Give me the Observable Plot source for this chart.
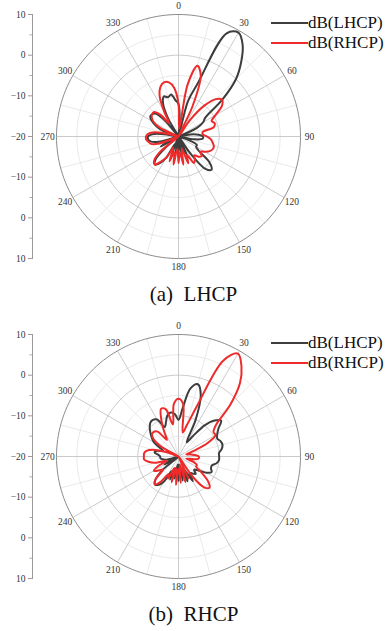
<!DOCTYPE html>
<html><head><meta charset="utf-8">
<script src="https://cdn.jsdelivr.net/npm/d3@7"></script>
<script src="https://cdn.jsdelivr.net/npm/@observablehq/plot@0.6"></script>
<style>
body{margin:0;background:#fff;width:387px;height:631px;overflow:hidden;font-family:"Liberation Serif",serif}
.panel{position:relative;width:387px;height:320px}
.legend{position:absolute;left:271px;top:13px;font-size:17px;line-height:20px;color:#111}
.legend div{display:flex;align-items:center;height:20px}
.legend svg{display:block}
.caption{position:absolute;top:282px;left:0;width:387px;text-align:center;font-size:21px;line-height:24px;white-space:pre;color:#111}
</style></head><body>
<div id="a" class="panel"></div><div id="b" class="panel"></div>
<script>
// sampling angles (degrees, clockwise from top)
const angles = [0,5,10,15,20,25,30,35,40,45,50,55,60,65,70,75,80,85,90,95,100,105,110,115,120,125,130,135,140,145,150,155,160,165,170,175,180,185,190,195,200,205,210,215,220,225,230,235,240,245,250,255,260,265,270,275,280,285,290,295,300,305,310,315,320,325,330,335,340,345,350,355];

// (a) LHCP antenna
const aLHCP = [-12,-17,-20,-11,-6,8,9.5,7.5,4,0,-6,-12,-13,-15,-20,-20,-17,-15,-14,-14,-16,-20,-17,-15,-15,-14,-10,-8.5,-9.5,-15,-20,-15,-17,-20,-16,-20,-15,-20,-16,-20,-15,-18,-14,-12,-11,-12,-16,-20,-15,-17,-20,-15,-13,-12.5,-12.5,-13.5,-17,-20,-16,-14,-12.5,-11.5,-11.5,-12,-15,-20,-15,-11,-9.5,-10,-9.5,-11];
const aRHCP = [-12,-18,-7,-2,-4,-12,-20,-15,-10,-7,-6,-7,-9.5,-11,-10.5,-11,-14,-14,-13,-12,-11.5,-11,-11,-11.5,-12.5,-13.5,-12.5,-13,-14,-13,-12.5,-15,-13,-17,-13,-16,-13.5,-17,-13,-16,-13.5,-17,-14,-12.5,-11,-11.5,-14,-20,-18,-20,-15,-13,-12.5,-12,-12,-12.5,-14,-18,-20,-15,-13,-12,-11.5,-11.5,-13,-16,-13,-9,-7,-6.2,-6.5,-8];

// (b) RHCP antenna
const bLHCP = [-11,-8,-3,-1.6,-4,-10,-16,-14,-10,-7.5,-6.3,-8,-9,-9.5,-9,-8.8,-9.2,-10,-10,-10,-10.5,-11.5,-11.5,-11,-12,-14,-15,-14,-14.5,-15,-13,-16,-13.5,-17,-14,-18,-14,-18,-14.5,-17,-14,-16,-13,-11.5,-11,-12,-15,-20,-16,-18,-20,-17,-16,-15.5,-15.5,-15,-14,-14.5,-16,-15,-13,-12,-11,-10,-9.2,-9,-9.5,-12,-11,-9.5,-9,-9.5];
const bRHCP = [-5.8,-7,-14,-12,-7,6,9.2,7,3.5,-2,-8,-9.5,-9.5,-12,-16,-18,-17,-16,-15,-15,-16,-18,-16,-15,-15,-13,-10.5,-9.2,-10,-14,-20,-14,-17,-13.5,-18,-13.5,-17,-13,-17,-13.5,-17,-14,-15,-12.5,-11,-12,-15,-14,-13,-14.5,-17,-14,-12.5,-11.5,-11.5,-11.5,-12,-13.5,-17,-20,-15,-12.5,-11.5,-11.4,-12,-15,-13,-10,-7.5,-8,-12,-7];

const seriesNames = ["dB(LHCP)", "dB(RHCP)"];
const seriesColors = ["#3d3d3d", "#ee2a2a"];
const angleLabels = [0,30,60,90,120,150,180,210,240,270,300,330];
const ringsMajor = [10,20];     // radial offsets above the -20 dB floor
const ringsMinor = [5,15,25];
const ringOuter = [30];
const radialTicks = [-30,-20,-10,0,10,20,30];
const radialMinor = [-25,-15,-5,5,15,25];
const floorDb = -20;

const rad = a => a * Math.PI / 180;
const px = (r, a) => r * Math.sin(rad(a));
const py = (r, a) => r * Math.cos(rad(a));

function ringPoints(rs) {
  const out = [];
  for (const r of rs) for (let a = 0; a <= 360; a += 2) out.push({r, a});
  return out;
}
function spokes(step, skip) {
  const out = [];
  for (let a = 0; a < 360; a += step) if (!skip || a % skip) out.push({a});
  return out;
}

function chart(L, R) {
  const rows = vals => angles.map((a, i) => ({a, r: Math.max(0, vals[i] - floorDb)}));
  const fmt = d => { const v = Math.abs(d) + floorDb; return v < 0 ? "\u2212" + (-v) : String(v); };
  return Plot.plot({
    width: 387, height: 280,
    marginLeft: 32, marginTop: 14, marginBottom: 22, marginRight: 0,
    style: {fontFamily: "Liberation Serif, serif", fontSize: "10px", color: "#333", background: "transparent"},
    x: {domain: [-30, 30], range: [56, 300], axis: null},
    y: {domain: [-30, 30]},
    marks: [
      Plot.line(ringPoints(ringsMinor), {x: d => px(d.r, d.a), y: d => py(d.r, d.a), z: "r", stroke: "#e3e3e3", strokeWidth: 0.8}),
      Plot.link(spokes(15, 30), {x1: 0, y1: 0, x2: d => px(30, d.a), y2: d => py(30, d.a), stroke: "#e3e3e3", strokeWidth: 0.8}),
      Plot.line(ringPoints(ringsMajor), {x: d => px(d.r, d.a), y: d => py(d.r, d.a), z: "r", stroke: "#c4c4c4", strokeWidth: 0.9}),
      Plot.link(spokes(30), {x1: 0, y1: 0, x2: d => px(30, d.a), y2: d => py(30, d.a), stroke: "#c4c4c4", strokeWidth: 0.9}),
      Plot.line(ringPoints(ringOuter), {x: d => px(d.r, d.a), y: d => py(d.r, d.a), z: "r", stroke: "#8c8c8c", strokeWidth: 1}),
      Plot.text(angleLabels, {x: d => px(32.2, d), y: d => py(32.2, d), text: d => String(d), fontSize: 9.5, fill: "#333"}),
      Plot.line(rows(L), {x: d => px(d.r, d.a), y: d => py(d.r, d.a), stroke: seriesColors[0], strokeWidth: 2, curve: "catmull-rom-closed"}),
      Plot.line(rows(R), {x: d => px(d.r, d.a), y: d => py(d.r, d.a), stroke: seriesColors[1], strokeWidth: 2, curve: "catmull-rom-closed"}),
      Plot.frame({anchor: "left", stroke: "#999"}),
      Plot.axisY({anchor: "left", ticks: radialTicks, tickFormat: fmt, tickSize: 4, tickPadding: 3, label: null, stroke: "#999", fill: "#333", fontSize: 9.5}),
      Plot.axisY({anchor: "left", ticks: radialMinor, tickFormat: () => "", tickSize: 2.5, label: null, stroke: "#aaa"})
    ]
  });
}

function legend() {
  const el = document.createElement("div");
  el.className = "legend";
  seriesNames.forEach((name, i) => {
    const row = document.createElement("div");
    row.innerHTML = `<svg width="37" height="20"><line x1="0" x2="37" y1="10" y2="10" stroke="${seriesColors[i]}" stroke-width="2"/></svg><span>${name}</span>`;
    el.appendChild(row);
  });
  return el;
}

const panels = [["a", aLHCP, aRHCP, "(a)  LHCP"], ["b", bLHCP, bRHCP, "(b)  RHCP"]];
for (const [id, L, R, cap] of panels) {
  const host = document.getElementById(id);
  host.appendChild(chart(L, R));
  host.appendChild(legend());
  const c = document.createElement("div");
  c.className = "caption";
  c.textContent = cap;
  host.appendChild(c);
}
</script>
</body></html>
